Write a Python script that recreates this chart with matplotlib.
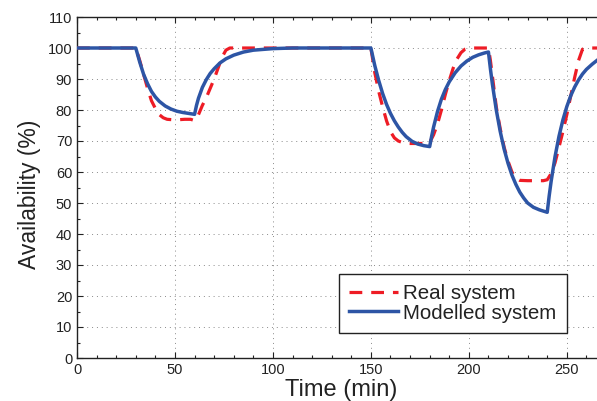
import matplotlib
matplotlib.use('Agg')
import matplotlib.pyplot as plt
from matplotlib.ticker import MultipleLocator

plt.rcParams['font.family'] = ['Liberation Sans', 'DejaVu Sans']

# Real system (red dashed)
t_real = [0, 30, 32, 34, 36, 38, 40, 42, 44, 46, 50, 55, 58, 60, 62, 64, 66, 68, 70, 72, 74, 76, 78,
          150, 152, 154, 156, 158, 160, 162, 164, 167, 170, 175, 178, 180, 182, 184, 186, 188, 190,
          192, 194, 196, 198, 200, 210, 211, 212, 214, 216, 218, 220, 222, 224, 226, 230, 235, 238,
          240, 242, 244, 246, 248, 250, 252, 254, 256, 258, 260, 270]
v_real = [100, 100, 96, 91.5, 87, 83, 80.5, 78.5, 77.5, 77, 76.8, 77, 77, 76.6, 78.5, 81.5, 84, 87, 90,
          93.5, 97, 99.3, 100,
          100, 92, 86, 81, 76.5, 73, 71, 70, 69.3, 69.2, 69.2, 69.2, 69.5, 72, 75.5, 80, 85, 89.5,
          93.5, 96.5, 98.5, 99.6, 100, 100, 96, 91, 81, 74, 68, 63.5, 60, 58, 57.3, 57.2, 57.2, 57.2,
          57.5, 59.5, 63, 68, 73, 78.5, 84.5, 90.5, 96, 99.6, 100, 100]

# Modelled system (blue solid)
t_mod = [0, 30, 32, 34, 36, 38, 40, 42, 45, 48, 51, 54, 57, 60,
         61, 62, 64, 66, 68, 70, 73, 76, 80, 85, 90, 100, 110, 150,
         152, 154, 156, 158, 160, 162, 164, 166, 168, 171, 174, 177, 180,
         181, 182, 184, 186, 188, 190, 193, 196, 199, 202, 205, 208, 210,
         211, 212, 214, 216, 218, 220, 222, 224, 226, 228, 230, 233, 236, 240,
         241, 242, 244, 246, 248, 250, 252, 254, 256, 258, 260, 263, 266, 270]
v_mod = [100, 100, 95.5, 91.5, 88.5, 86, 84.2, 82.8, 81.3, 80.3, 79.6, 79.2, 78.9, 78.6,
         81.5, 83.8, 87.3, 89.8, 91.8, 93.3, 95.2, 96.5, 97.7, 98.7, 99.3, 99.8, 100, 100,
         94.3, 89.5, 85.3, 81.8, 78.9, 76.5, 74.5, 72.8, 71.4, 69.9, 69.0, 68.5, 68.2,
         71.5, 74.5, 79.5, 83.5, 86.6, 89.1, 92.0, 94.2, 95.8, 97.0, 97.8, 98.4, 98.7,
         93.3, 88.4, 80.0, 73.1, 67.4, 62.8, 59.0, 56.0, 53.5, 51.6, 50.0, 48.6, 47.8, 47.0,
         52.3, 57.0, 65.0, 71.5, 76.8, 81.1, 84.6, 87.4, 89.7, 91.6, 93.1, 94.8, 96.3, 97.6]

fig = plt.figure(figsize=(5.97, 4.01), dpi=100)
ax = fig.add_axes([77 / 597, 43 / 401, 529 / 597, 341 / 401])

ax.plot(t_real, v_real, color='#ee1c25', linestyle=(0, (4, 2.8)), linewidth=2.3,
        label='Real system', zorder=3)
ax.plot(t_mod, v_mod, color='#2d55a5', linestyle='-', linewidth=2.5,
        label='Modelled system', zorder=4)

ax.set_xlim(0, 270)
ax.set_ylim(0, 110)
ax.xaxis.set_major_locator(MultipleLocator(50))
ax.xaxis.set_minor_locator(MultipleLocator(10))
ax.yaxis.set_major_locator(MultipleLocator(10))
ax.yaxis.set_minor_locator(MultipleLocator(5))
ax.tick_params(which='both', direction='in', top=True, right=True, labelsize=10.5,
               colors='#222222', width=0.8)
ax.tick_params(which='major', length=4)
ax.tick_params(which='minor', length=2)
for s in ax.spines.values():
    s.set_linewidth(1.0)
    s.set_color('#222222')

ax.grid(True, which='major', linestyle=(0, (1, 4)), color='#8a8a8a', linewidth=0.7)

ax.set_xlabel('Time (min)', fontsize=17, color='#222222')
ax.set_ylabel('Availability (%)', fontsize=16.5, color='#222222')
ax.xaxis.set_label_coords(0.5, -0.062)
ax.yaxis.set_label_coords(-0.068, 0.48)

leg = ax.legend(loc='upper right', bbox_to_anchor=(567 / 597, 1 - 274 / 401),
                bbox_transform=fig.transFigure, fontsize=14.8, fancybox=False,
                framealpha=1, edgecolor='#222222', handlelength=2.4,
                handletextpad=0.25, labelspacing=0.02, borderpad=0.5, borderaxespad=0)
leg.get_frame().set_linewidth(1.0)
for txt in leg.get_texts():
    txt.set_color('#222222')

plt.savefig('out.png', dpi=100)
